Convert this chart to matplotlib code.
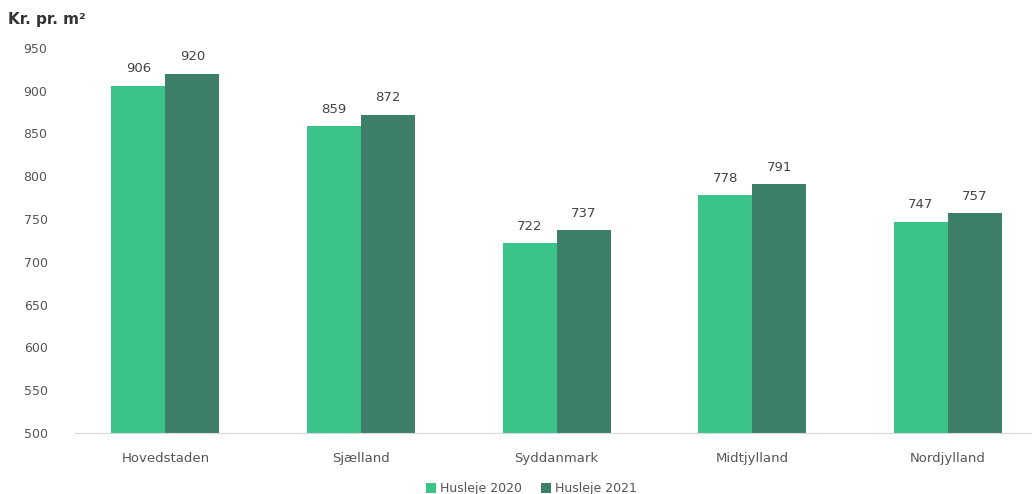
import numpy as np
import matplotlib.pyplot as plt

regioner = ['Hovedstaden', 'Sjælland', 'Syddanmark', 'Midtjylland', 'Nordjylland']
husleje_2020 = [906, 859, 722, 778, 747]
husleje_2021 = [920, 872, 737, 791, 757]
yticks = [500, 550, 600, 650, 700, 750, 800, 850, 900, 950]

farve_2020 = '#3cc488'
farve_2021 = '#3e7f6a'

fig = plt.figure(figsize=(10.32, 4.94), dpi=100)
ax = fig.add_axes([0.073, 0.1235, 0.927, 0.7795])

x = np.arange(len(regioner))
w = 0.276
b1 = ax.bar(x - w / 2, np.array(husleje_2020) - 500, w, bottom=500, color=farve_2020, label='Husleje 2020')
b2 = ax.bar(x + w / 2, np.array(husleje_2021) - 500, w, bottom=500, color=farve_2021, label='Husleje 2021')

for bars, vals in [(b1, husleje_2020), (b2, husleje_2021)]:
    for r, v in zip(bars, vals):
        ax.text(r.get_x() + r.get_width() / 2, v + 12, str(v), ha='center', va='bottom',
                fontsize=9.5, color='#444444')

ax.set_ylim(500, 950)
ax.set_xlim(-0.46, 4.43)
ax.set_yticks(yticks)
ax.set_xticks(x)
ax.set_xticklabels(regioner)
ax.tick_params(axis='both', length=0, labelsize=9, colors='#555555')
ax.tick_params(axis='x', pad=14, labelsize=9.5)
ax.tick_params(axis='y', pad=20)

for s in ['top', 'right', 'left']:
    ax.spines[s].set_visible(False)
ax.spines['bottom'].set_color('#d8d8d8')

fig.text(0.008, 0.96, 'Kr. pr. m²', fontsize=11, fontweight='bold', color='#333333', va='center')

fig.legend(loc='lower center', bbox_to_anchor=(0.515, -0.025), ncol=2, frameon=False,
           fontsize=9, handlelength=0.8, handleheight=0.8, handletextpad=0.3,
           columnspacing=1.5, labelcolor='#555555')

fig.savefig('out.png', dpi=100)
